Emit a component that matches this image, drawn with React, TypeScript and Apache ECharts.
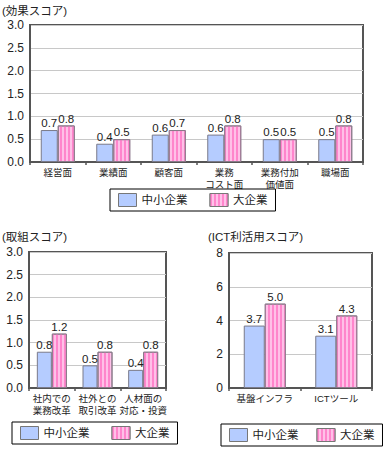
import React, { useEffect, useRef } from "react";
import * as echarts from "echarts";

const effectCategories = ["経営面", "業績面", "顧客面", "業務\nコスト面", "業務付加\n価値面", "職場面"];
const effectSmall = [0.7, 0.4, 0.6, 0.6, 0.5, 0.5];
const effectLarge = [0.8, 0.5, 0.7, 0.8, 0.5, 0.8];

const effortCategories = ["社内での\n業務改革", "社外との\n取引改革", "人材面の\n対応・投資"];
const effortSmall = [0.8, 0.5, 0.4];
const effortLarge = [1.2, 0.8, 0.8];

const ictCategories = ["基盤インフラ", "ICTツール"];
const ictSmall = [3.7, 3.1];
const ictLarge = [5.0, 4.3];

const seriesNames = ["中小企業", "大企業"];
const titles = ["(効果スコア)", "(取組スコア)", "(ICT利活用スコア)"];

const FONT = "'Liberation Sans', 'Noto Sans CJK JP', sans-serif";
const BLUE = "#B5CCFF";
const PINK = "#FFC0E8";
const PINK_STRIPE = "#FF85CC";

const blueStyle = { color: BLUE, borderColor: "#7a7a8a", borderWidth: 1 };
const pinkStyle = {
  color: PINK,
  borderColor: "#8a7a8a",
  borderWidth: 1,
  decal: {
    symbol: "rect",
    symbolSize: 1,
    color: PINK_STRIPE,
    dashArrayX: [1.5, 1.5],
    dashArrayY: [4, 0],
    rotation: 0,
  },
};

export default function App() {
  const ref = useRef<HTMLDivElement>(null);
  useEffect(() => {
    document.body.style.margin = "0";
    const chart = echarts.init(ref.current!, null, { renderer: "svg" });

    const grids = [
      { left: 30, top: 25, width: 333, height: 137 },
      { left: 29, top: 252, width: 137, height: 136 },
      { left: 229, top: 253, width: 143, height: 135 },
    ].map((g) => ({ ...g, show: true, borderColor: "#555", borderWidth: 2, backgroundColor: "transparent" }));

    const cats = [effectCategories, effortCategories, ictCategories];
    const xAxis = cats.map((c, i) => ({
      type: "category",
      gridIndex: i,
      data: c,
      axisLine: { lineStyle: { color: "#555", width: 2 } },
      axisTick: { show: true, length: 3, lineStyle: { color: "#555", width: 1.5 } },
      axisLabel: { fontSize: 9.5, color: "#222", fontFamily: FONT, margin: 4, lineHeight: 12, interval: 0 },
    }));
    const yAxis = [
      { min: 0, max: 3, interval: 0.5, dec: 1 },
      { min: 0, max: 3, interval: 0.5, dec: 1 },
      { min: 0, max: 8, interval: 2, dec: 0 },
    ].map((a, i) => ({
      type: "value",
      gridIndex: i,
      min: a.min,
      max: a.max,
      interval: a.interval,
      axisLine: { show: true, lineStyle: { color: "#555", width: 2 } },
      axisTick: { show: false },
      splitLine: { lineStyle: { color: "#c8c8c8", width: 1 } },
      axisLabel: {
        fontSize: 12,
        color: "#222",
        fontFamily: FONT,
        margin: 6,
        formatter: (v: number) => v.toFixed(a.dec),
      },
    }));

    const data = [
      [effectSmall, effectLarge, 17],
      [effortSmall, effortLarge, 15],
      [ictSmall, ictLarge, 21],
    ] as [number[], number[], number][];

    const series: any[] = [];
    data.forEach(([s, l, w], i) => {
      [s, l].forEach((vals, j) => {
        series.push({
          type: "bar",
          name: seriesNames[j],
          xAxisIndex: i,
          yAxisIndex: i,
          data: vals,
          barWidth: w,
          barGap: "0%",
          itemStyle: j === 0 ? blueStyle : pinkStyle,
          label: {
            show: true,
            position: "top",
            distance: 1,
            fontSize: 11.5,
            color: "#222",
            fontFamily: FONT,
            formatter: (p: any) => p.value.toFixed(1),
          },
        });
      });
    });

    const legendPos = [
      { left: 110, top: 189, gap: 22 },
      { left: 12, top: 422, gap: 22 },
      { left: 221, top: 424, gap: 18 },
    ];
    const legend = legendPos.map((p) => ({
      left: p.left,
      top: p.top,
      width: 200,
      orient: "horizontal",
      icon: "rect",
      data: seriesNames,
      itemWidth: 18,
      itemHeight: 13,
      itemGap: p.gap,
      borderColor: "#000",
      borderWidth: 1,
      padding: [4, 8, 4, 8],
      selectedMode: false,
      itemStyle: { borderColor: "#777", borderWidth: 1 },
      textStyle: { fontSize: 11.5, color: "#222", fontFamily: FONT },
    }));

    const titlePos = [
      { left: 2, top: 5 },
      { left: 2, top: 231 },
      { left: 208, top: 231 },
    ];
    const title = titles.map((t, i) => ({
      text: t,
      ...titlePos[i],
      padding: 0,
      textStyle: { fontSize: 11.5, fontWeight: "normal", color: "#222", fontFamily: FONT },
    }));

    chart.setOption({
      animation: false,
      backgroundColor: "#fff",
      title,
      grid: grids,
      xAxis,
      yAxis,
      legend,
      series,
    });
    return () => chart.dispose();
  }, []);
  return <div ref={ref} style={{ width: 390, height: 449 }} />;
}
